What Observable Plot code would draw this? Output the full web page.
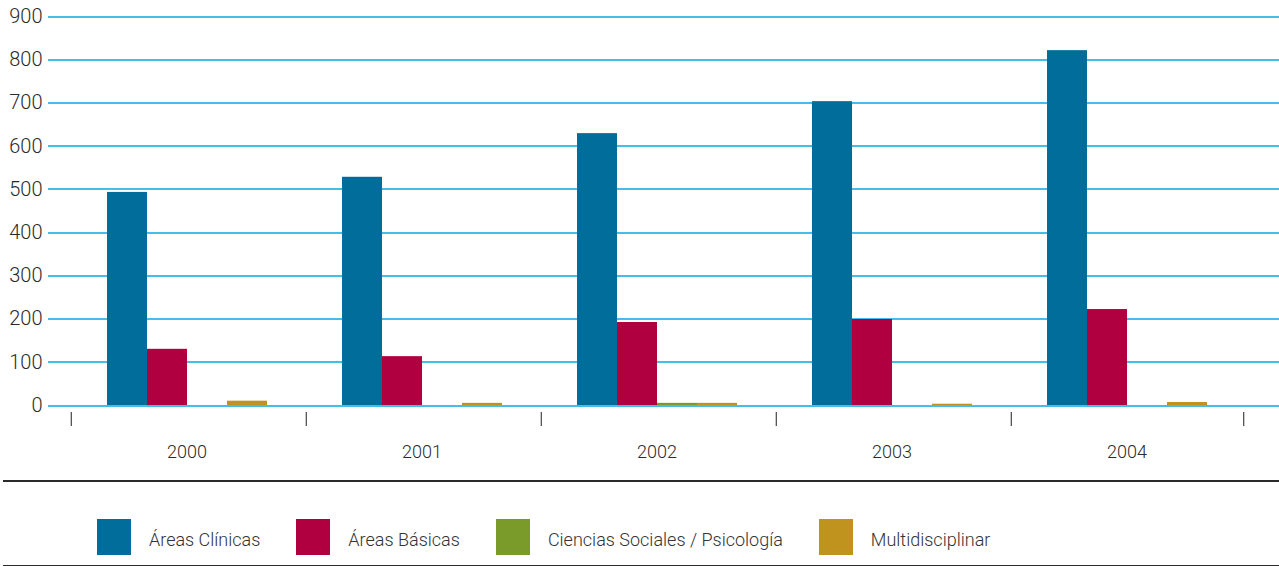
<!DOCTYPE html>
<html>
<head>
<meta charset="utf-8">
<script src="https://cdn.jsdelivr.net/npm/d3@7"></script>
<script src="https://cdn.jsdelivr.net/npm/@observablehq/plot@0.6"></script>
<style>
  body { margin: 0; background: #fff; font-family: Roboto, "Noto Sans", sans-serif; }
  #chart svg { display: block; }
  #legend {
    margin: 10px 0 0 3px;
    height: 83px;
    border-top: 2px solid #2a2a2a;
    border-bottom: 2px solid #2a2a2a;
    box-sizing: content-box;
    display: flex;
    gap: 36px;
    padding-left: 94px;
    padding-top: 0;
  }
  .item { display: flex; align-items: center; margin-top: 37px; height: 36px; }
  .sw { width: 34px; height: 36px; margin-right: 18px; }
  .lab { font-size: 18px; color: #333; font-weight: 300; padding-top: 4px; }
</style>
</head>
<body>
<div id="chart"></div>
<div id="legend"></div>
<script>
const years = ["2000", "2001", "2002", "2003", "2004"];
const categories = ["Áreas Clínicas", "Áreas Básicas", "Ciencias Sociales / Psicología", "Multidisciplinar"];
const clinicas = [493, 528, 629, 703, 821];
const basicas = [130, 113, 192, 199, 222];
const sociales = [0, 0, 5, 0, 0];
const multidisciplinar = [10, 5, 5, 3, 7];
const colors = ["#006d9a", "#b0003f", "#7a9a29", "#c0931e"];
const yTicks = [0, 100, 200, 300, 400, 500, 600, 700, 800, 900];

const series = [clinicas, basicas, sociales, multidisciplinar];
const data = years.flatMap((yr, i) => categories.map((c, j) => ({year: yr, cat: c, value: series[j][i]})));
const leftSeps = years.map(yr => ({year: yr, cat: categories[0]}));
const rightSep = [{year: years[years.length - 1], cat: categories[categories.length - 1]}];
const gridFirst = yTicks.map(v => ({year: years[0], v}));
const gridLast = yTicks.map(v => ({year: years[years.length - 1], v}));

const gridStyle = {stroke: "#45bdeb", strokeWidth: 2, shapeRendering: "crispEdges"};

const chart = Plot.plot({
  width: 1279,
  height: 470,
  marginLeft: 69,
  marginRight: 35,
  marginTop: 16,
  marginBottom: 65,
  style: {fontFamily: "Roboto, 'Noto Sans', sans-serif", background: "#fff"},
  fx: {domain: years, padding: 0, label: null},
  x: {domain: categories, paddingInner: 0, paddingOuter: 0.875, axis: null},
  y: {domain: [0, 900]},
  color: {domain: categories, range: colors},
  marks: [
    Plot.ruleY(yTicks, {...gridStyle, insetRight: -1}),
    Plot.ruleY(gridFirst, {...gridStyle, fx: "year", y: "v", insetLeft: -21}),
    Plot.ruleY(gridLast, {...gridStyle, fx: "year", y: "v", insetRight: -35}),
    Plot.barY(data, {fx: "year", x: "cat", y: "value", fill: "cat"}),
    Plot.ruleX(leftSeps, {fx: "year", x: "cat", dx: -56.2, insetTop: 396, insetBottom: -21, stroke: "#444", strokeWidth: 1.2}),
    Plot.ruleX(rightSep, {fx: "year", x: "cat", dx: 56.2, insetTop: 396, insetBottom: -21, stroke: "#444", strokeWidth: 1.2}),
    Plot.axisY(yTicks, {tickSize: 0, tickPadding: 27, fontSize: 20, fill: "#2a2a2a", fontWeight: 300, label: null}),
    Plot.axisFx({anchor: "bottom", tickSize: 0, tickPadding: 40, fontSize: 18, fill: "#2a2a2a", fontWeight: 300, label: null})
  ]
});
document.getElementById("chart").appendChild(chart);

const legend = document.getElementById("legend");
categories.forEach((c, i) => {
  const item = document.createElement("div");
  item.className = "item";
  const sw = document.createElement("div");
  sw.className = "sw";
  sw.style.background = colors[i];
  const lab = document.createElement("span");
  lab.className = "lab";
  lab.textContent = c;
  item.appendChild(sw);
  item.appendChild(lab);
  legend.appendChild(item);
});
</script>
</body>
</html>
